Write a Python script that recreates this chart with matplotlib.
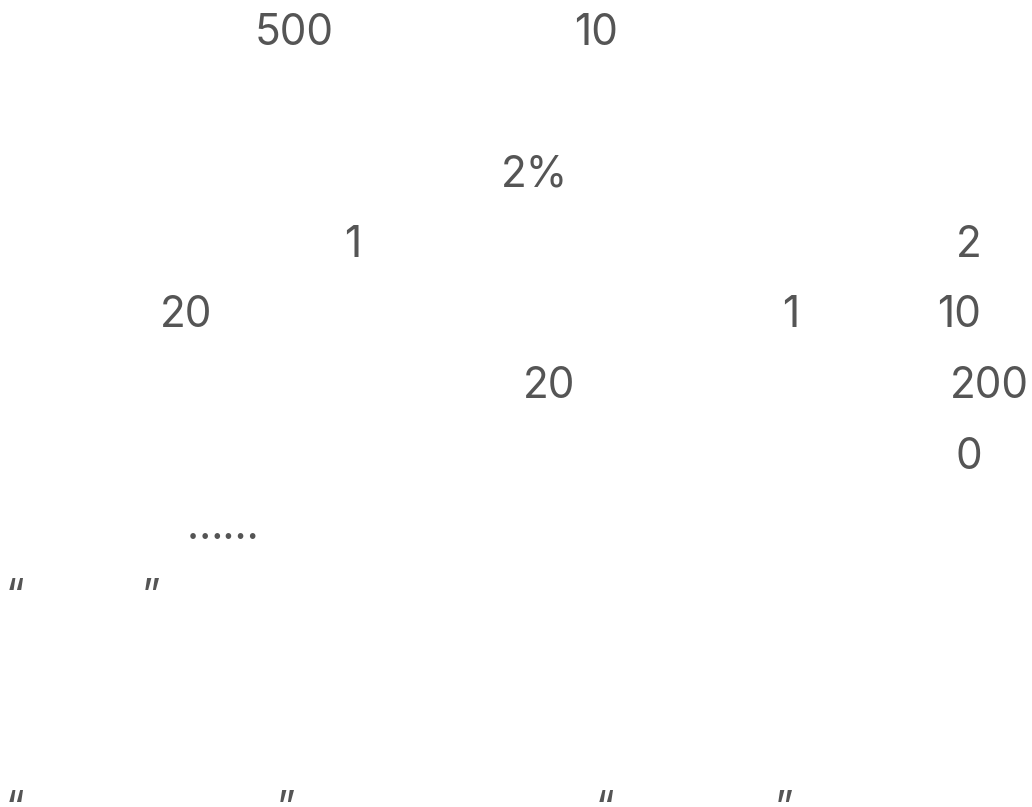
import matplotlib
matplotlib.use("Agg")
import matplotlib.pyplot as plt

# ------------------------------------------------------------------
# Data: the visible text fragments of the page (the CJK glyphs of the
# original are missing, only digits and punctuation are left)
# ------------------------------------------------------------------
fragments = ["500", "10",
             "2%",
             "1", "2",
             "20", "1", "10",
             "20", "200",
             "0",
             "\u2026\u2026",
             "\u201c", "\u201d",
             "\u201c", "\u201d", "\u201c", "\u201d"]

# line number of each fragment (0 = first text line)
frag_line = [0, 0,
             2,
             3, 3,
             4, 4, 4,
             5, 5,
             6,
             7,
             8, 8,
             11, 11, 11, 11]

# left edge of each fragment, in pixels
frag_x = [255, 574,
          501,
          344, 956,
          160, 782, 937,
          523, 950,
          955,
          187,
          6, 142,
          6, 277, 596, 775]

# ------------------------------------------------------------------
# Layout
# ------------------------------------------------------------------
W, H = 1032, 807
first_baseline = 45
line_gap = 70.6
text_color = "#555555"

fig = plt.figure(figsize=(W / 100, H / 100), dpi=100)
ax = fig.add_axes([0, 0, 1, 1])
ax.set_xlim(0, W)
ax.set_ylim(H, 0)
ax.axis("off")

for txt, line, x in zip(fragments, frag_line, frag_x):
    y = first_baseline + line * line_gap
    ax.text(x, y, txt, ha="left", va="baseline", fontsize=30.5,
            family=["Inter", "DejaVu Sans"], color=text_color)

fig.savefig("out.png", dpi=100, facecolor="white")
